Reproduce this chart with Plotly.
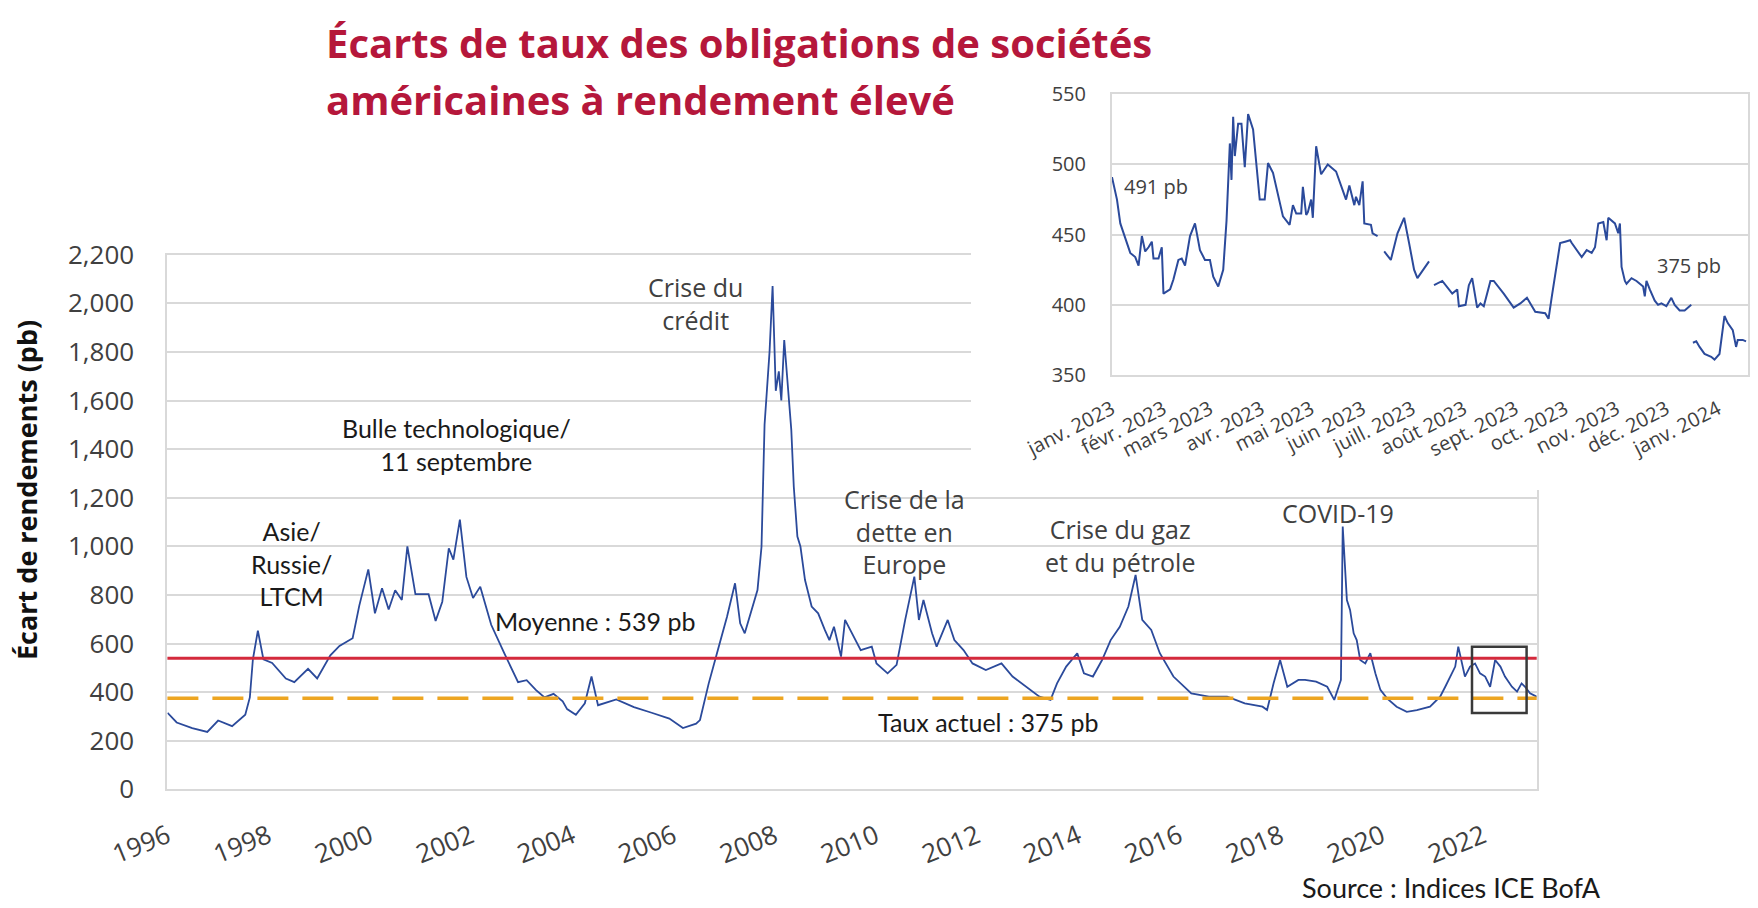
import plotly.graph_objects as go

# High-yield spread (pb)
main_dates = [
    "1997-01-01", "1997-03-08", "1997-06-28", "1997-10-15", "1998-01-01", "1998-04-12",
    "1998-07-16", "1998-08-18", "1998-09-09", "1998-10-15", "1998-11-24", "1999-01-26",
    "1999-05-05", "1999-07-05", "1999-10-12", "1999-12-17", "2000-03-21", "2000-05-26",
    "2000-08-29", "2000-10-16", "2000-12-20", "2001-02-06", "2001-03-29", "2001-05-16",
    "2001-07-02", "2001-08-19", "2001-09-28", "2001-11-25", "2002-02-28", "2002-04-20",
    "2002-06-07", "2002-07-24", "2002-08-26", "2002-10-12", "2002-11-28", "2003-01-15",
    "2003-03-08", "2003-05-26", "2003-08-29", "2003-10-01", "2003-12-06", "2004-02-06",
    "2004-04-12", "2004-06-14", "2004-08-18", "2004-10-23", "2004-11-24", "2005-01-26",
    "2005-04-01", "2005-05-19", "2005-07-05", "2005-11-14", "2006-03-21", "2006-07-27",
    "2006-12-02", "2007-03-10", "2007-06-13", "2007-07-11", "2007-09-12", "2007-11-17",
    "2008-01-22", "2008-03-20", "2008-04-26", "2008-05-29", "2008-07-16", "2008-08-29",
    "2008-09-27", "2008-10-19", "2008-11-06", "2008-11-24", "2008-12-16", "2009-01-08",
    "2009-01-30", "2009-02-17", "2009-03-10", "2009-04-01", "2009-04-30", "2009-05-18",
    "2009-06-13", "2009-07-05", "2009-08-07", "2009-09-24", "2009-11-10", "2009-12-28",
    "2010-01-30", "2010-03-04", "2010-04-24", "2010-05-23", "2010-07-13", "2010-09-13",
    "2010-12-02", "2011-01-05", "2011-03-26", "2011-05-30", "2011-07-31", "2011-10-05",
    "2011-11-07", "2011-12-10", "2012-02-10", "2012-03-14", "2012-06-02", "2012-07-20",
    "2012-09-24", "2012-11-28", "2013-03-04", "2013-05-08", "2013-06-25", "2013-09-13",
    "2013-12-20", "2014-03-26", "2014-06-14", "2014-07-31", "2014-10-05", "2014-12-24",
    "2015-02-10", "2015-04-16", "2015-06-21", "2015-08-22", "2015-10-27", "2015-12-28",
    "2016-02-18", "2016-04-06", "2016-06-10", "2016-08-11", "2016-11-17", "2017-03-26",
    "2017-07-31", "2017-12-10", "2018-04-16", "2018-08-22", "2018-09-24", "2018-11-10",
    "2018-12-27", "2019-02-17", "2019-05-08", "2019-06-25", "2019-09-13", "2019-12-02",
    "2020-01-22", "2020-03-10", "2020-03-23", "2020-04-07", "2020-04-22", "2020-05-15",
    "2020-06-10", "2020-07-02", "2020-07-27", "2020-09-02", "2020-10-08", "2020-11-14",
    "2020-12-20", "2021-02-06", "2021-04-16", "2021-06-28", "2021-09-09", "2021-12-13",
    "2022-02-24", "2022-04-02", "2022-05-08", "2022-06-13", "2022-07-05", "2022-07-31",
    "2022-08-22", "2022-09-28", "2022-11-03", "2022-12-09", "2023-01-15", "2023-02-20",
    "2023-03-28", "2023-05-05", "2023-06-07", "2023-07-27", "2023-09-02", "2023-10-05",
    "2023-10-30", "2023-12-05", "2024-01-22",
]
main_values = [
    315, 275, 252, 236, 283, 260,
    307, 378, 535, 653, 535, 520,
    456, 441, 496, 456, 551, 590,
    622, 756, 905, 724, 827, 740,
    819, 779, 1000, 803, 803, 693,
    772, 992, 945, 1110, 874, 787,
    834, 677, 559, 519, 441, 449,
    409, 378, 393, 362, 330, 307,
    354, 464, 346, 370, 338, 315,
    291, 252, 270, 285, 436, 573,
    710, 848, 683, 642, 738, 820,
    998, 1500, 1650, 1800, 2071, 1640,
    1720, 1600, 1849, 1700, 1479, 1245,
    1040, 999, 861, 752, 724, 656,
    614, 669, 546, 697, 642, 573,
    587, 518, 477, 512, 697, 875,
    697, 779, 642, 587, 697, 614,
    573, 518, 491, 505, 518, 464,
    422, 381, 368, 436, 505, 560,
    477, 464, 532, 614, 669, 752,
    882, 697, 656, 560, 464, 395,
    381, 381, 354, 340, 326, 436,
    532, 422, 450, 450, 443, 422,
    368, 450, 1081, 930, 779, 738,
    642, 614, 532, 518, 560, 477,
    409, 374, 340, 319, 326, 340,
    381, 422, 464, 505, 587, 518,
    464, 505, 518, 477, 464, 422,
    532, 505, 464, 422, 402, 436,
    422, 395, 381,
]

average_spread = 539
current_spread = 375

year_ticks = ["1996-12-31", "1998-12-31", "2000-12-31", "2002-12-31", "2004-12-31",
              "2006-12-31", "2008-12-31", "2010-12-31", "2012-12-31", "2014-12-31",
              "2016-12-31", "2018-12-31", "2020-12-31", "2022-12-31"]
year_labels = ["1996", "1998", "2000", "2002", "2004", "2006", "2008", "2010",
               "2012", "2014", "2016", "2018", "2020", "2022"]

# Zoom on 2023 (daily, with a few holes)
inset_dates = [
    "2023-01-01", "2023-01-04", "2023-01-06", "2023-01-08", "2023-01-12", "2023-01-15",
    "2023-01-17", "2023-01-19", "2023-01-21", "2023-01-23", "2023-01-25", "2023-01-26",
    "2023-01-29", "2023-01-31", "2023-02-01", "2023-02-05", "2023-02-07", "2023-02-10",
    "2023-02-12", "2023-02-14", "2023-02-17", "2023-02-20", "2023-02-23", "2023-02-26",
    "2023-03-01", "2023-03-03", "2023-03-06", "2023-03-09", "2023-03-11", "2023-03-13",
    "2023-03-14", "2023-03-15", "2023-03-16", "2023-03-18", "2023-03-20", "2023-03-22",
    "2023-03-24", "2023-03-27", "2023-03-31", "2023-04-03", "2023-04-05", "2023-04-08",
    "2023-04-14", "2023-04-18", "2023-04-20", "2023-04-22", "2023-04-25", "2023-04-26",
    "2023-04-28", "2023-04-29", "2023-05-01", "2023-05-02", "2023-05-04", "2023-05-07",
    "2023-05-11", "2023-05-16", "2023-05-22", "2023-05-24", "2023-05-27", "2023-05-28",
    "2023-05-30", "2023-06-01", "2023-06-02", "2023-06-06", "2023-06-07", "2023-06-10",
    "2023-06-12", "2023-06-14", "2023-06-18", "2023-06-22", "2023-06-26", "2023-06-29",
    "2023-07-02", "2023-07-04", "2023-07-11", "2023-07-12", "2023-07-14", "2023-07-19",
    "2023-07-25", "2023-07-28", "2023-07-29", "2023-08-02", "2023-08-04", "2023-08-06",
    "2023-08-09", "2023-08-11", "2023-08-13", "2023-08-17", "2023-08-19", "2023-08-25",
    "2023-08-31", "2023-09-04", "2023-09-08", "2023-09-13", "2023-09-19", "2023-09-21",
    "2023-09-23", "2023-09-26", "2023-09-28", "2023-10-01", "2023-10-04", "2023-10-05",
    "2023-10-11", "2023-10-14", "2023-10-17", "2023-10-19", "2023-10-21", "2023-10-24",
    "2023-10-26", "2023-10-27", "2023-10-29", "2023-10-31", "2023-11-02", "2023-11-03",
    "2023-11-04", "2023-11-06", "2023-11-07", "2023-11-10", "2023-11-13", "2023-11-17",
    "2023-11-18", "2023-11-19", "2023-11-21", "2023-11-24", "2023-11-26", "2023-11-28",
    "2023-12-01", "2023-12-04", "2023-12-06", "2023-12-09", "2023-12-12", "2023-12-16",
    "2023-12-16", "2023-12-17", "2023-12-19", "2023-12-21", "2023-12-24", "2023-12-28",
    "2023-12-30", "2024-01-02", "2024-01-04", "2024-01-05", "2024-01-07", "2024-01-10",
    "2024-01-12", "2024-01-13", "2024-01-16", "2024-01-18",
]
inset_values = [
    491, 475, 458, 451, 437, 434,
    428, 449, 438, 441, 445, 433,
    433, 441, 408, 411, 418, 432,
    433, 428, 449, 458, 439, 432,
    432, 420, 413, 425, 460, 515,
    489, 534, 506, 529, 529, 498,
    536, 525, 475, 475, 501, 494,
    463, 457, 471, 465, 465, 484,
    464, 466, 475, 462, 513, 493,
    500, 495, 475, 485, 471, 477,
    471, 488, 458, 457, 451, 449,
    None, 438, 432, 451, 462, 444,
    425, 419, 431, None, 414, 417,
    408, 411, 399, 400, 414, 419,
    398, 401, 399, 417, 417, 408,
    398, 401, 405, 395, 394, 390,
    406, 427, 444, 445, 446, 444,
    434, 439, 437, 441, 458, 459,
    446, 462, 460, 458, 451, 458,
    427, 417, 415, 419, 417, 413,
    406, 417, 411, 403, 400, 401,
    399, 405, 400, 396, 396, 400,
    None, 373, 374, 370, 365, 363,
    361, 365, 384, 392, 387, 382,
    370, 375, 375, 374,
]

month_ticks = ["2023-01-01", "2023-02-01", "2023-03-01", "2023-04-01", "2023-05-01",
               "2023-06-01", "2023-07-01", "2023-08-01", "2023-09-01", "2023-10-01",
               "2023-11-01", "2023-12-01", "2024-01-01"]
month_labels = ["janv. 2023", "févr. 2023", "mars 2023", "avr. 2023", "mai 2023",
                "juin 2023", "juill. 2023", "août 2023", "sept. 2023", "oct. 2023",
                "nov. 2023", "déc. 2023", "janv. 2024"]

# the page has an 8px body margin, so the figure is drawn 8px smaller
OFF = 8
W, H = 1758 - OFF, 908 - OFF
BLUE = "#2B4A9B"
GRID = "#D9D9D9"
TXT = "#404040"


def px(x):
    return (x - OFF) / W


def py(y):
    return 1 - (y - OFF) / H


fig = go.Figure()

fig.add_trace(go.Scatter(x=main_dates, y=main_values, mode="lines",
                         line=dict(color=BLUE, width=1.8),
                         showlegend=False, hoverinfo="x+y"))
# empty subplot that only paints the white card behind the inset
fig.add_trace(go.Scatter(x=[], y=[], xaxis="x2", yaxis="y2", showlegend=False,
                         hoverinfo="skip"))
fig.add_trace(go.Scatter(x=inset_dates, y=inset_values, mode="lines",
                         line=dict(color=BLUE, width=2), connectgaps=False,
                         xaxis="x3", yaxis="y3", showlegend=False, hoverinfo="x+y"))

fig.add_hline(y=average_spread, line=dict(color="#D42A3C", width=3))
fig.add_hline(y=current_spread, line=dict(color="#EDA521", width=3.5, dash="31px,14px"))
fig.add_shape(type="rect", xref="x", yref="y", x0="2022-10-12", x1="2023-11-10",
              y0=314, y1=587, line=dict(color="#3A3A3A", width=2.5))

fig.update_layout(
    width=W, height=H,
    margin=dict(l=0, r=0, t=0, b=0),
    paper_bgcolor="white", plot_bgcolor="white",
    xaxis=dict(domain=[px(167.4), px(1536.7)], range=["1996-12-31", "2024-01-22"],
               tickvals=year_ticks, ticktext=year_labels, tickangle=-22,
               tickfont=dict(family="Open Sans", size=26, color=TXT),
               ticklabelstandoff=20, showgrid=False, showline=True, linecolor=GRID,
               linewidth=2, mirror=True, ticks="", automargin=False),
    yaxis=dict(domain=[py(789.3), py(254.7)], range=[0, 2200], dtick=200,
               tickformat=",d", tickfont=dict(family="Open Sans", size=26, color=TXT),
               ticklabelstandoff=26, gridcolor=GRID, gridwidth=2, showline=True,
               linecolor=GRID, linewidth=2, mirror=True, ticks="", zeroline=False,
               automargin=False),
    xaxis2=dict(domain=[px(971), 1], anchor="y2", visible=False, automargin=False),
    yaxis2=dict(domain=[py(490), 1], anchor="x2", visible=False, automargin=False),
    xaxis3=dict(domain=[px(1112), px(1747.7)], anchor="y3",
                range=["2023-01-01", "2024-01-19"],
                tickvals=month_ticks, ticktext=month_labels, tickangle=-27,
                tickfont=dict(family="Open Sans", size=20, color=TXT),
                ticklabelstandoff=13, showgrid=False, showline=True, linecolor=GRID,
                linewidth=2, mirror=True, ticks="", automargin=False),
    yaxis3=dict(domain=[py(375), py(94.3)], anchor="x3", range=[350, 550], dtick=50,
                tickfont=dict(family="Open Sans", size=20, color=TXT),
                ticklabelstandoff=20, gridcolor=GRID, gridwidth=2, showline=True,
                linecolor=GRID, linewidth=2, mirror=True, ticks="", zeroline=False,
                automargin=False),
)

title_font = dict(family="Open Sans", size=40, color="#B5173B", weight="bold")
fig.add_annotation(text="Écarts de taux des obligations de sociétés", xref="paper",
                   yref="paper", x=px(324), y=py(43), xanchor="left", yanchor="middle",
                   showarrow=False, font=title_font)
fig.add_annotation(text="américaines à rendement élevé", xref="paper", yref="paper",
                   x=px(324), y=py(99), xanchor="left", yanchor="middle",
                   showarrow=False, font=title_font)

fig.add_annotation(text="Écart de rendements (pb)", xref="paper", yref="paper",
                   x=px(26), y=py(490), xanchor="center", yanchor="middle",
                   textangle=-90, showarrow=False,
                   font=dict(family="Open Sans", size=27, color="#111111", weight="bold"))

black = dict(family="Lato", size=25, color="#1A1A1A")
gray = dict(family="Open Sans", size=25, color=TXT)
notes = [
    ("Asie/<br>Russie/<br>LTCM", "1999-06-15", 929, "center", black),
    ("Bulle technologique/<br>11 septembre", "2002-09-15", 1417, "center", black),
    ("Crise du<br>crédit", "2007-06-05", 2000, "center", gray),
    ("Moyenne : 539 pb", "2003-06-05", 693, "left", black),
    ("Crise de la<br>dette en<br>Europe", "2011-07-26", 1060, "center", gray),
    ("Crise du gaz<br>et du pétrole", "2015-10-30", 1002, "center", gray),
    ("COVID-19", "2020-02-16", 1137, "center", gray),
    ("Taux actuel : 375 pb", "2013-03-17", 278, "center", black),
]
for text, x, y, anchor, font in notes:
    fig.add_annotation(text=text, x=x, y=y, xref="x", yref="y", xanchor=anchor,
                       yanchor="middle", showarrow=False, font=font)

fig.add_annotation(text="491 pb", x="2023-01-07", y=484, xref="x3", yref="y3",
                   xanchor="left", yanchor="middle", showarrow=False,
                   font=dict(family="Open Sans", size=20, color=TXT))
fig.add_annotation(text="375 pb", x="2023-11-24", y=428, xref="x3", yref="y3",
                   xanchor="left", yanchor="middle", showarrow=False,
                   font=dict(family="Open Sans", size=20, color=TXT))

fig.add_annotation(text="Source : Indices ICE BofA", xref="paper", yref="paper",
                   x=px(1300), y=py(887), xanchor="left", yanchor="middle",
                   showarrow=False, font=dict(family="Lato", size=27, color="#1A1A1A"))

fig.write_html("out.html")
